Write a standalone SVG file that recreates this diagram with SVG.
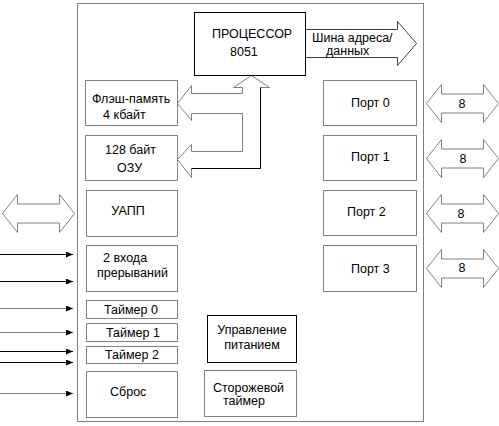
<svg xmlns="http://www.w3.org/2000/svg" width="499" height="426" viewBox="0 0 499 426">
<style>
text{font-family:"Liberation Sans",Arial,sans-serif;font-size:12.5px;fill:#000}
.g{fill:#fff;stroke:#808080;stroke-width:1}
.k{fill:#fff;stroke:#000;stroke-width:1}
.da{fill:#fff;stroke:#808080;stroke-width:1}
.ln{stroke:#000;stroke-width:1;fill:none}
.lg{stroke:#808080;stroke-width:1;fill:none}
</style>
<defs>
<path id="dbl" d="M0,0 L15,-19 L15,-9.5 L57,-9.5 L57,-19 L72,0 L57,19 L57,9.5 L15,9.5 L15,19 Z"/>
<marker id="ah" markerWidth="7" markerHeight="6" refX="7" refY="3" orient="auto" markerUnits="userSpaceOnUse">
<path d="M0,0 L7,3 L0,6 Z" fill="#000"/>
</marker>
</defs>
<rect width="499" height="426" fill="#fff"/>
<g id="chip"><rect x="77.5" y="3.5" width="346" height="418" class="g"/></g>
<g id="connectors">
<path d="M305.5,29.5 L397.5,29.5 L397.5,21.5 L416.5,43.5 L397.5,65.5 L397.5,57.5 L305.5,57.5" fill="#fff" stroke="#404040"/>
<path d="M251.5,75.5 L269.5,87.5 L260.5,87.5 L260.5,168.5 L191.5,168.5 L191.5,177.5 L177.5,159.5 L191.5,144.5 L191.5,151.5 L242.5,151.5 L242.5,113.5 L191.5,113.5 L191.5,120.5 L177.5,103.5 L191.5,85.5 L191.5,93.5 L242.5,93.5 L242.5,87.5 L233.5,87.5 Z" fill="#fff" stroke="#808080"/>
<path d="M260.5,87.5 L260.5,168.5 L191.5,168.5" fill="none" stroke="#000"/>
<use href="#dbl" transform="translate(2.5,213.5)" class="da"/>
<use href="#dbl" transform="translate(426.5,103.5)" class="da"/>
<use href="#dbl" transform="translate(426.5,158.5)" class="da"/>
<use href="#dbl" transform="translate(426.5,213.5)" class="da"/>
<use href="#dbl" transform="translate(426.5,268.5)" class="da"/>
<text x="462" y="108" text-anchor="middle">8</text>
<text x="463" y="163" text-anchor="middle">8</text>
<text x="461" y="218" text-anchor="middle">8</text>
<text x="462" y="272" text-anchor="middle">8</text>
<line x1="0" y1="254.5" x2="73" y2="254.5" class="ln" marker-end="url(#ah)"/>
<line x1="0" y1="281.5" x2="73" y2="281.5" class="ln" marker-end="url(#ah)"/>
<line x1="0" y1="308.5" x2="73" y2="308.5" class="lg" marker-end="url(#ah)"/>
<line x1="0" y1="332.5" x2="73" y2="332.5" class="lg" marker-end="url(#ah)"/>
<line x1="0" y1="351.5" x2="73" y2="351.5" class="ln" marker-end="url(#ah)"/>
<line x1="0" y1="362.5" x2="73" y2="362.5" class="ln" marker-end="url(#ah)"/>
<line x1="0" y1="393.5" x2="73" y2="393.5" class="lg" marker-end="url(#ah)"/>
</g>
<g id="cpu"><rect x="194.5" y="12.5" width="111" height="63" class="k"/>
<text x="212" y="38">ПРОЦЕССОР</text><text x="230" y="56">8051</text></g>
<g id="bus-label"><text x="312" y="42">Шина адреса/</text><text x="326" y="55">данных</text></g>
<g id="flash"><rect x="85.5" y="80.5" width="92" height="45" class="g"/>
<text x="92" y="103">Флэш-память</text><text x="103" y="119">4 кбайт</text></g>
<g id="ram"><rect x="85.5" y="135.5" width="92" height="45" class="g"/>
<text x="105" y="154">128 байт</text><text x="117" y="172">ОЗУ</text></g>
<g id="uart"><rect x="86.5" y="190.5" width="91" height="46" class="g"/>
<text x="128" y="215" text-anchor="middle">УАПП</text></g>
<g id="irq"><rect x="86.5" y="245.5" width="91" height="46" class="g"/>
<text x="103" y="262">2 входа</text><text x="97" y="277">прерываний</text></g>
<g id="t0"><rect x="86.5" y="300.5" width="91" height="18" class="g"/>
<text x="104" y="314">Таймер 0</text></g>
<g id="t1"><rect x="86.5" y="323.5" width="91" height="18" class="g"/>
<text x="106" y="337">Таймер 1</text></g>
<g id="t2"><rect x="86.5" y="346.5" width="91" height="17" class="g"/>
<text x="105" y="359">Таймер 2</text></g>
<g id="reset"><rect x="86.5" y="371.5" width="91" height="46" class="g"/>
<text x="110" y="396">Сброс</text></g>
<g id="power"><rect x="207.5" y="315.5" width="89" height="47" class="k"/>
<text x="252" y="334" text-anchor="middle">Управление</text><text x="252" y="349" text-anchor="middle">питанием</text></g>
<g id="wdt"><rect x="204.5" y="370.5" width="92" height="46" class="g"/>
<text x="213" y="392">Сторожевой</text><text x="223" y="405">таймер</text></g>
<g id="p0"><rect x="323.5" y="80.5" width="93" height="45" class="g"/><text x="351" y="107">Порт 0</text></g>
<g id="p1"><rect x="323.5" y="135.5" width="93" height="45" class="g"/><text x="351" y="161">Порт 1</text></g>
<g id="p2"><rect x="323.5" y="190.5" width="93" height="45" class="g"/><text x="347" y="216">Порт 2</text></g>
<g id="p3"><rect x="323.5" y="245.5" width="93" height="46" class="g"/><text x="351" y="273">Порт 3</text></g>
</svg>
